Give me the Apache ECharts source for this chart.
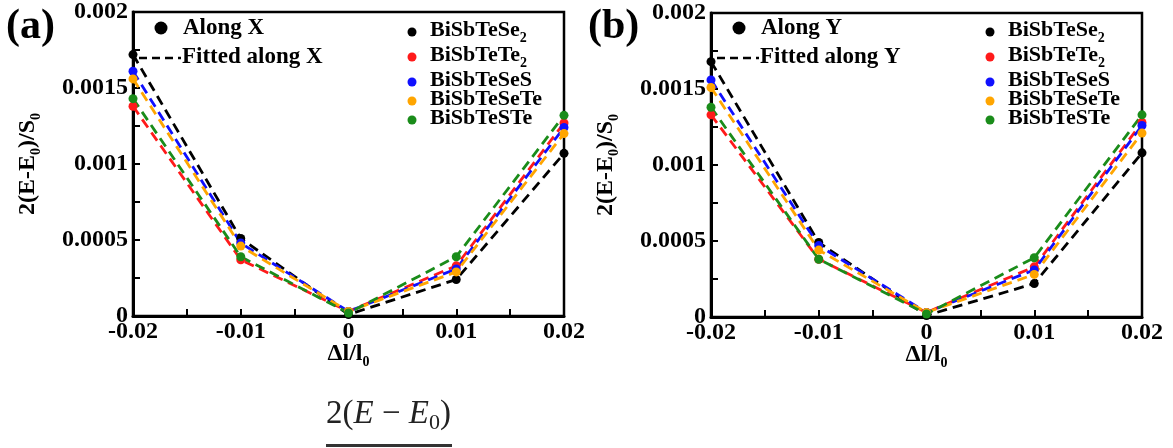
<!DOCTYPE html>
<html>
<head>
<meta charset="utf-8">
<script src="https://cdn.jsdelivr.net/npm/echarts@6/dist/echarts.min.js"></script>
<style>
  html, body { margin: 0; padding: 0; background: #fff; }
  #plot { width: 1173px; height: 448px; }
</style>
</head>
<body>
<div id="plot"></div>
<script>
"use strict";

// Strain values on the x axis.
var strain = [-0.02, -0.01, 0, 0.01, 0.02];

// Panel (a), along X.
var alongX_Se2 = [0.00172, 0.00051, 0.00001, 0.00024, 0.00107];
var alongX_Te2 = [0.00138, 0.00037, 0.00003, 0.00033, 0.00127];
var alongX_SeS = [0.00161, 0.00048, 0.00003, 0.00031, 0.00124];
var alongX_SeTe = [0.00156, 0.00046, 0.00003, 0.00029, 0.00120];
var alongX_STe = [0.00143, 0.00039, 0.00002, 0.00039, 0.00132];

// Panel (b), along Y.
var alongY_Se2 = [0.00168, 0.00049, 0.00001, 0.00022, 0.00108];
var alongY_Te2 = [0.00133, 0.00038, 0.00003, 0.00033, 0.00128];
var alongY_SeS = [0.00156, 0.00047, 0.00003, 0.00031, 0.00126];
var alongY_SeTe = [0.00151, 0.00044, 0.00003, 0.00028, 0.00121];
var alongY_STe = [0.00138, 0.00038, 0.00002, 0.00039, 0.00133];

var names = ['BiSbTeSe2', 'BiSbTeTe2', 'BiSbTeSeS', 'BiSbTeSeTe', 'BiSbTeSTe'];
var colors = ['#000000', '#ff1a1a', '#1010ff', '#ffa500', '#1a8c1a'];

var serif = '"Liberation Serif", "DejaVu Serif", serif';
var subStyle = { fontSize: 14, fontWeight: 'bold', fontFamily: serif, lineHeight: 14, verticalAlign: 'bottom' };

function pairs(ys) {
  return strain.map(function (x, i) { return [x, ys[i]]; });
}

function makeSeries(sets, idx) {
  return sets.map(function (ys, k) {
    return {
      type: 'line',
      name: names[k],
      xAxisIndex: idx,
      yAxisIndex: idx,
      data: pairs(ys),
      clip: false,
      symbol: 'circle',
      symbolSize: 9,
      itemStyle: { color: colors[k] },
      lineStyle: { color: colors[k], width: 2.8, type: [10, 6] },
      animation: false
    };
  });
}

function xAx(idx) {
  return {
    type: 'value', gridIndex: idx, min: -0.02, max: 0.02, interval: 0.01,
    name: 'Δl/l{s|0}', nameLocation: 'middle', nameGap: 23, nameMoveOverlap: false,
    nameTextStyle: { fontSize: 24, fontWeight: 'bold', fontFamily: serif, color: '#000', lineHeight: 30,
      rich: { s: subStyle } },
    axisLine: { onZero: false, lineStyle: { color: '#000', width: 3 } },
    axisTick: { inside: true, length: 7, lineStyle: { color: '#000', width: 2 } },
    minorTick: { show: true, splitNumber: 2, length: 7, lineStyle: { color: '#000', width: 2 } },
    axisLabel: { fontSize: 24, fontWeight: 'bold', fontFamily: serif, color: '#000', margin: 4 },
    splitLine: { show: false }
  };
}

function yAx(idx) {
  return {
    type: 'value', gridIndex: idx, min: 0, max: 0.002, interval: 0.0005,
    name: '2(E-E{s|0})/S{s|0}', nameLocation: 'middle', nameRotate: 90, nameGap: 90,
    nameTextStyle: { fontSize: 24, fontWeight: 'bold', fontFamily: serif, color: '#000', lineHeight: 30,
      rich: { s: subStyle } },
    axisLine: { onZero: false, lineStyle: { color: '#000', width: 3 } },
    axisTick: { inside: true, length: 7, lineStyle: { color: '#000', width: 2 } },
    minorTick: { show: true, splitNumber: 2, length: 7, lineStyle: { color: '#000', width: 2 } },
    axisLabel: { fontSize: 24, fontWeight: 'bold', fontFamily: serif, color: '#000', margin: 5 },
    splitLine: { show: false }
  };
}

// Legend drawn by hand: spacing is uneven because of the subscripts.
function legendGraphics(left, axisName) {
  var g = [];
  g.push({ type: 'circle', shape: { cx: left + 28, cy: 28, r: 6.5 }, style: { fill: '#000' } });
  g.push({ type: 'text', x: left + 50, y: 28,
    style: { text: 'Along ' + axisName, font: 'bold 23px ' + serif, fill: '#000', verticalAlign: 'middle' } });
  g.push({ type: 'line', shape: { x1: left + 6, y1: 58, x2: left + 48, y2: 58 },
    style: { stroke: '#000', lineWidth: 2.5, lineDash: [8, 5] } });
  g.push({ type: 'text', x: left + 49, y: 57,
    style: { text: 'Fitted along ' + axisName, font: 'bold 23px ' + serif, fill: '#000', verticalAlign: 'middle' } });

  var labels = ['BiSbTeSe{s|2}', 'BiSbTeTe{s|2}', 'BiSbTeSeS', 'BiSbTeSeTe', 'BiSbTeSTe'];
  var rows = [30, 55, 80, 99, 118];
  labels.forEach(function (t, k) {
    g.push({ type: 'circle', shape: { cx: left + 279, cy: rows[k] + 2, r: 4.5 }, style: { fill: colors[k] } });
    g.push({ type: 'text', x: left + 297, y: rows[k],
      style: {
        text: t, fill: '#000', verticalAlign: 'middle',
        fontSize: 22, fontWeight: 'bold', fontFamily: serif, lineHeight: 30,
        rich: { s: subStyle }
      } });
  });
  return g;
}

var chart = echarts.init(document.getElementById('plot'));

var graphics = [
  { type: 'text', x: 6, y: 6, style: { text: '(a)', font: 'bold 42px ' + serif, fill: '#000' } },
  { type: 'text', x: 588, y: 6, style: { text: '(b)', font: 'bold 42px ' + serif, fill: '#000' } },
  { type: 'text', x: 326, y: 414,
    style: {
      text: '{n|2(}{i|E}{n| − }{i|E}{z|0}{n|)}', fill: '#222', verticalAlign: 'middle',
      rich: {
        n: { fontSize: 33, fontFamily: serif, lineHeight: 40, fill: '#222' },
        i: { fontSize: 33, fontFamily: serif, fontStyle: 'italic', lineHeight: 40, fill: '#222' },
        z: { fontSize: 22, fontFamily: serif, lineHeight: 22, verticalAlign: 'bottom', fill: '#222' }
      }
    } },
  { type: 'rect', shape: { x: 326, y: 444, width: 126, height: 3 }, style: { fill: '#333' } }
].concat(legendGraphics(133, 'X'), legendGraphics(711, 'Y'));

chart.setOption({
  backgroundColor: '#fff',
  animation: false,
  grid: [
    { left: 133, top: 12, width: 431, height: 304, show: true, borderColor: '#000', borderWidth: 2.5 },
    { left: 711, top: 13, width: 431, height: 304, show: true, borderColor: '#000', borderWidth: 2.5 }
  ],
  xAxis: [xAx(0), xAx(1)],
  yAxis: [yAx(0), yAx(1)],
  series: makeSeries([alongX_Se2, alongX_Te2, alongX_SeS, alongX_SeTe, alongX_STe], 0)
    .concat(makeSeries([alongY_Se2, alongY_Te2, alongY_SeS, alongY_SeTe, alongY_STe], 1)),
  graphic: graphics
});
</script>
</body>
</html>
